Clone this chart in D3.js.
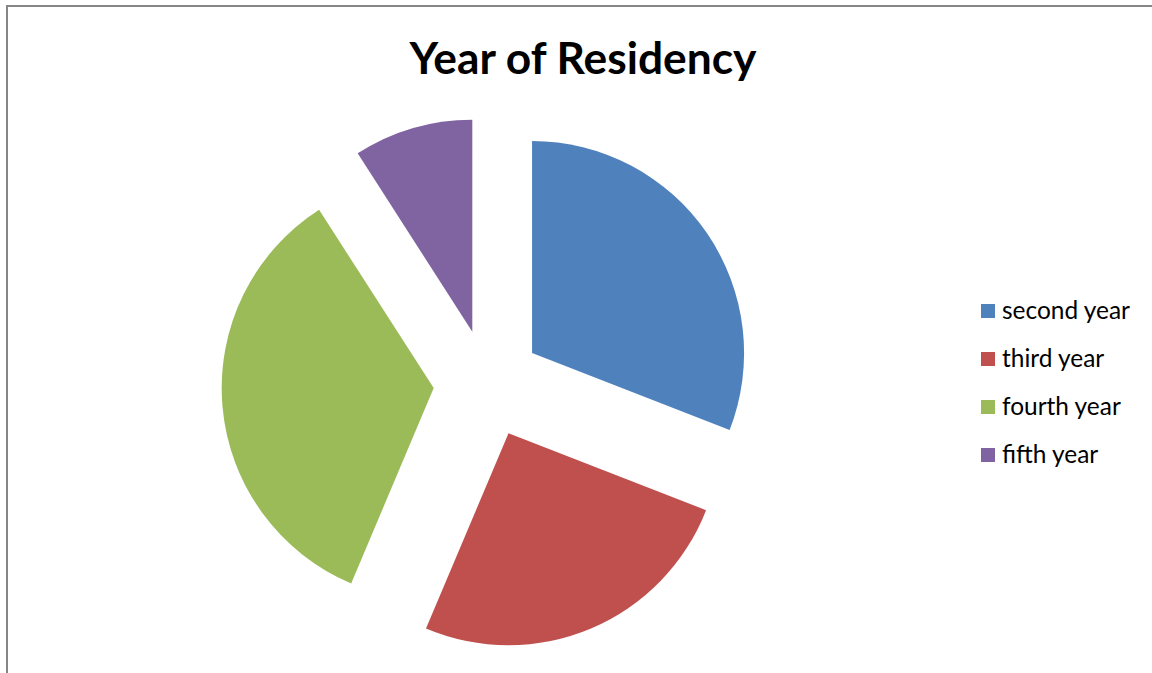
<!DOCTYPE html>
<html>
<head>
<meta charset="utf-8">
<script src="https://cdn.jsdelivr.net/npm/d3@7"></script>
<style>
  html, body { margin: 0; padding: 0; background: #fff; }
  svg { display: block; }
</style>
</head>
<body>
<svg id="chart" width="1152" height="673"></svg>
<script>
// Residents per year of training
const categories = ["second year", "third year", "fourth year", "fifth year"];
const counts = [34, 28, 38, 10];
const colors = ["#4F81BD", "#C0504D", "#9BBB59", "#8064A2"];
const title = "Year of Residency";

const svg = d3.select("#chart");
const W = 1152, H = 673;

// chart frame (continues past the right and bottom edges)
svg.append("rect")
  .attr("x", 7).attr("y", 6)
  .attr("width", W + 20).attr("height", H + 20)
  .attr("fill", "#fff")
  .attr("stroke", "#868686")
  .attr("stroke-width", 2);

// title, sized to its box
const titleText = svg.append("text")
  .attr("x", 583).attr("y", 74)
  .attr("text-anchor", "middle")
  .attr("font-family", "Lato, 'Open Sans', sans-serif")
  .attr("font-weight", "bold")
  .attr("font-size", 40)
  .attr("fill", "#000")
  .text(title);
{
  const w = titleText.node().getComputedTextLength();
  titleText.attr("font-size", 40 * 347 / w);
}

// exploded pie
const cx = 487.5, cy = 383.5, radius = 212, explode = 54;
const pie = d3.pie().sort(null).value(d => d);
const arc = d3.arc().innerRadius(0).outerRadius(radius);
const arcs = pie(counts);

svg.append("g")
  .attr("transform", `translate(${cx},${cy})`)
  .selectAll("path")
  .data(arcs)
  .join("path")
  .attr("transform", d => {
    const mid = (d.startAngle + d.endAngle) / 2;
    return `translate(${Math.sin(mid) * explode},${-Math.cos(mid) * explode})`;
  })
  .attr("d", arc)
  .attr("fill", (d, i) => colors[i]);

// legend
const legendY = d3.scalePoint().domain(categories).range([311, 455]);
const lg = svg.append("g");
const rows = lg.selectAll("g")
  .data(categories)
  .join("g")
  .attr("transform", d => `translate(981,${legendY(d)})`);
rows.append("rect")
  .attr("x", 0).attr("y", -7)
  .attr("width", 14).attr("height", 14)
  .attr("fill", (d, i) => colors[i]);
const labels = rows.append("text")
  .attr("x", 21).attr("y", 8)
  .attr("font-family", "Lato, 'Open Sans', sans-serif")
  .attr("font-size", 22)
  .attr("fill", "#000")
  .text(d => d);
{
  const w = labels.nodes()[0].getComputedTextLength();
  labels.attr("font-size", 22 * 128 / w);
}
</script>
</body>
</html>
